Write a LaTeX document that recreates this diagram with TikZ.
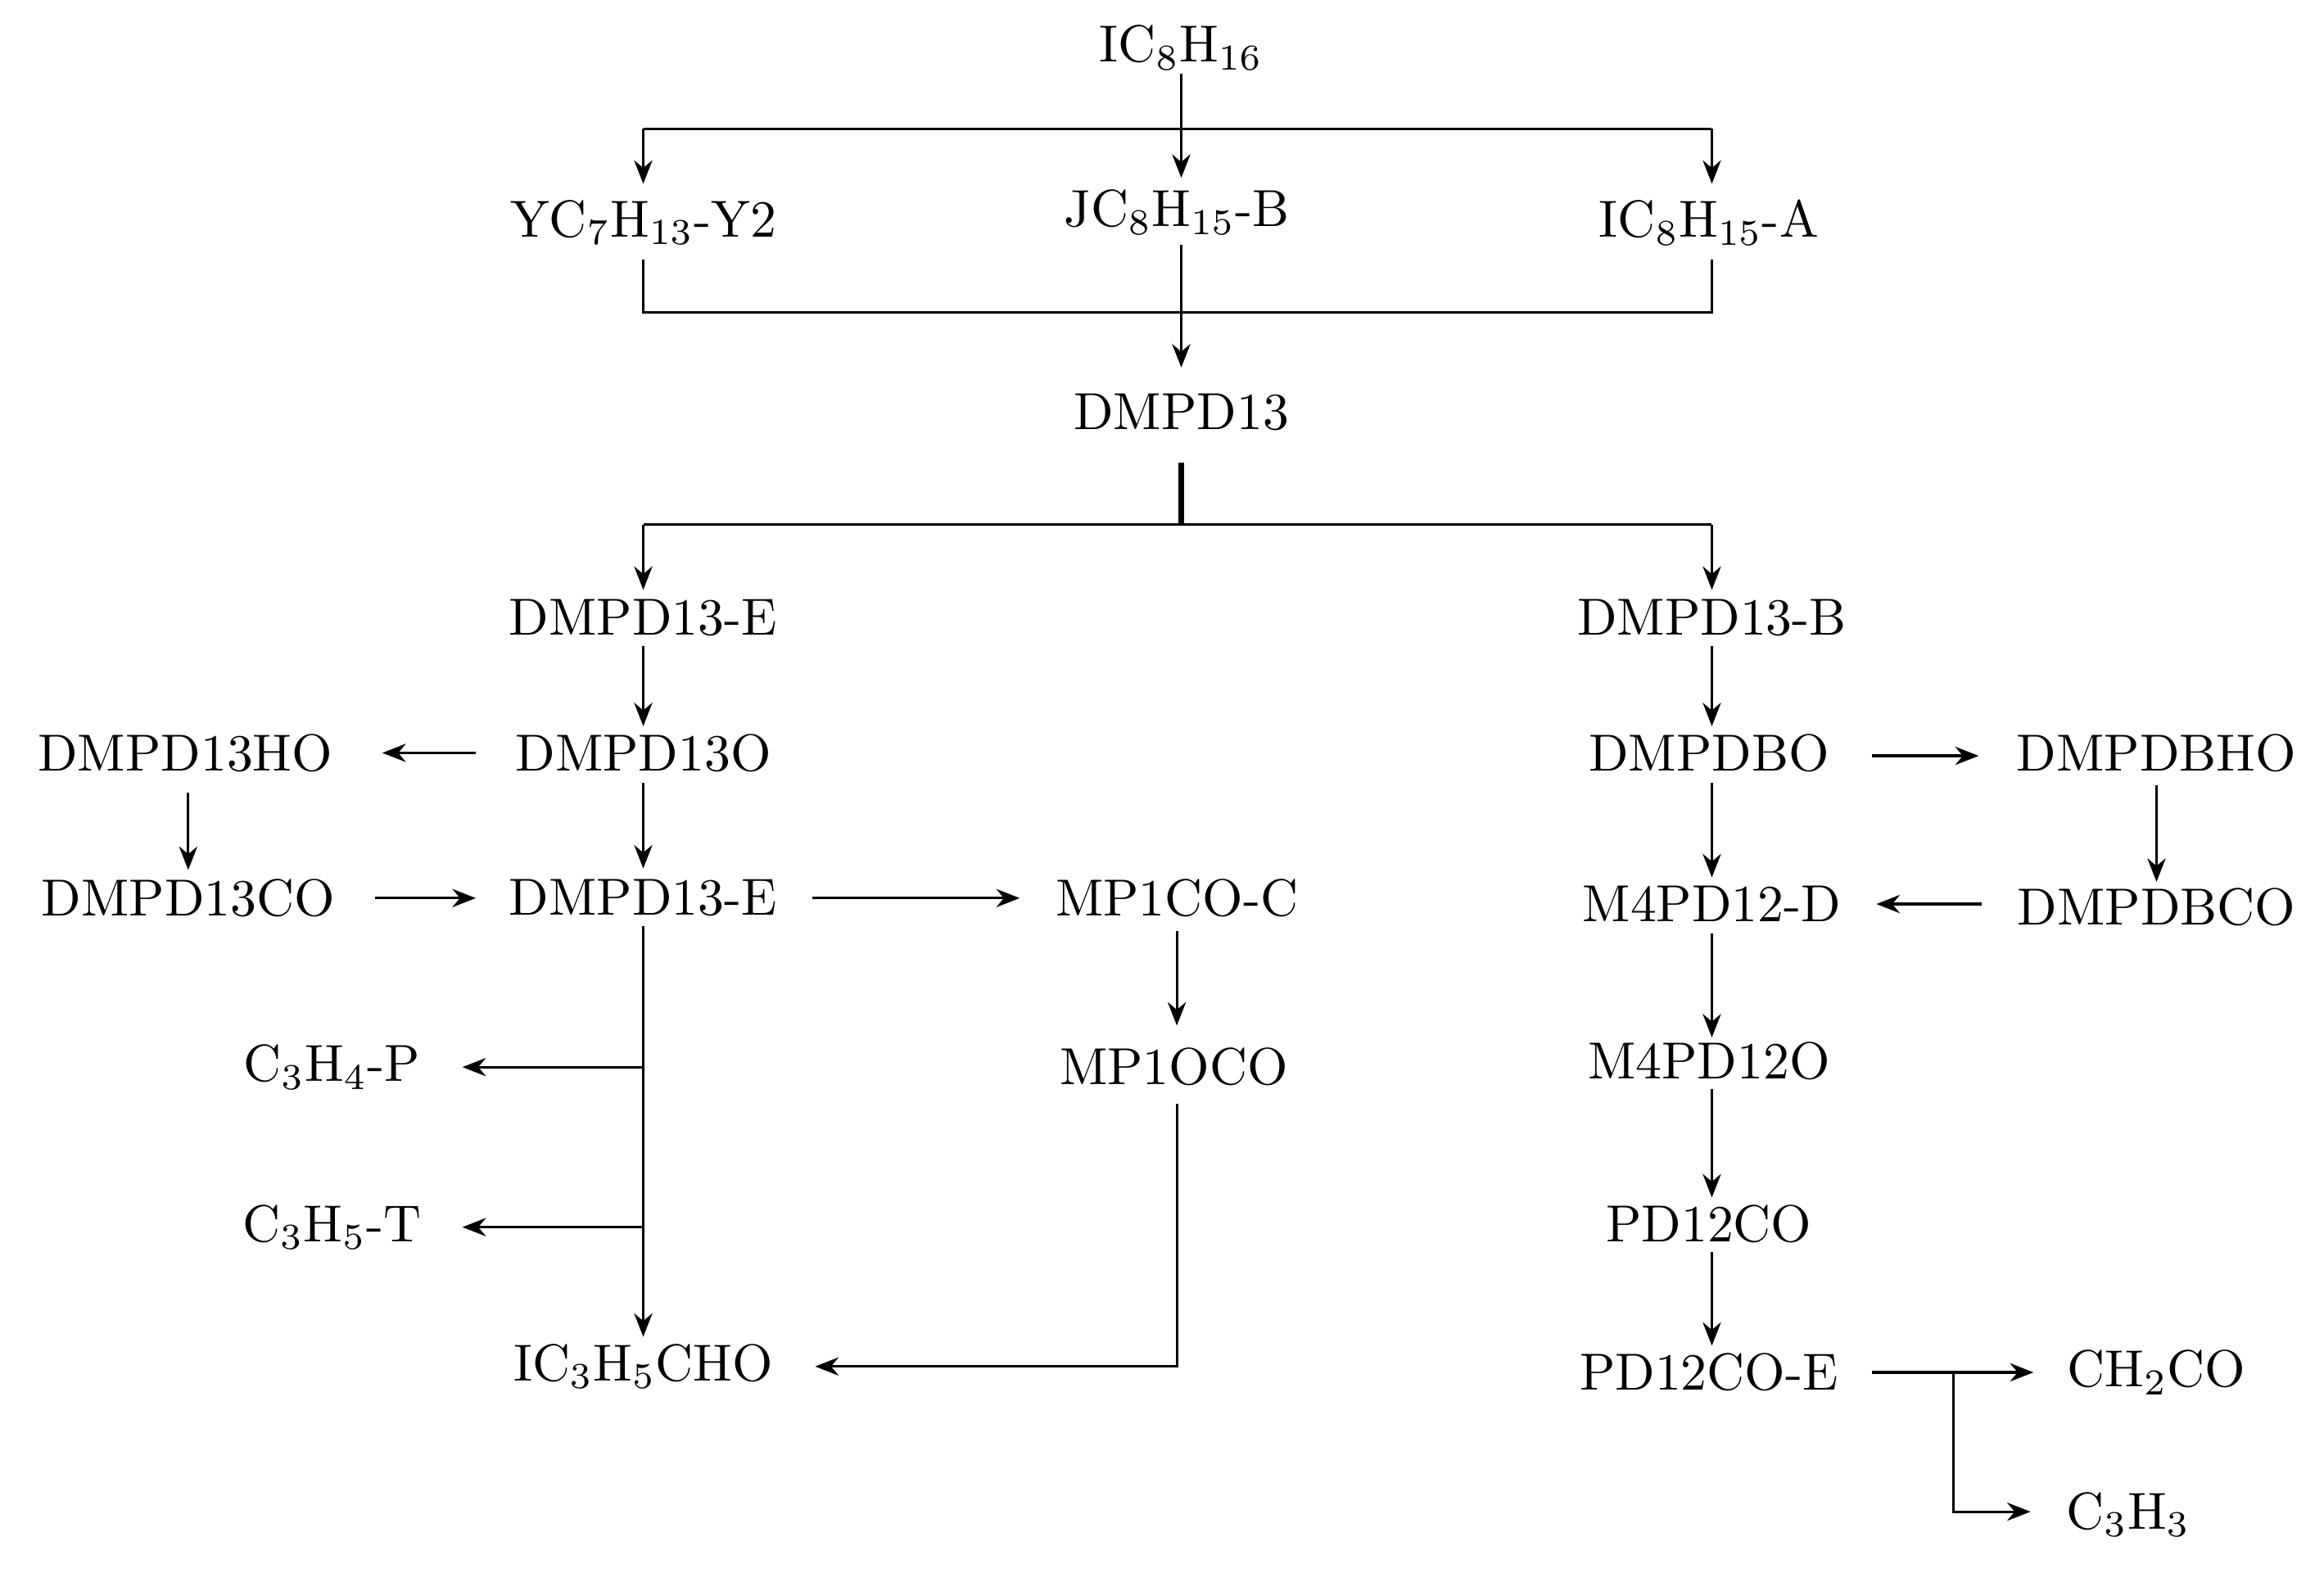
\documentclass[tikz,border=0pt]{standalone}
\usetikzlibrary{arrows.meta}
\begin{document}
\begin{tikzpicture}[x=0.01cm,y=-0.01cm,
  lbl/.style={font=\fontsize{10}{12}\selectfont, inner sep=0pt},
  arr/.style={-{Stealth[length=4.5pt,width=3.5pt]}, line width=0.5pt},
  ln/.style={line width=0.5pt}]
\useasboundingbox (0,0) rectangle (1568,1067);
\node[lbl] (a) at (797,32) {IC$_8$H$_{16}$};
\node[lbl] (y) at (434,150) {YC$_7$H$_{13}$-Y2};
\node[lbl] (j) at (794,143) {JC$_8$H$_{15}$-B};
\node[lbl] (ia) at (1153,150) {IC$_8$H$_{15}$-A};
\node[lbl] (d) at (797,278) {DMPD13};
\node[lbl] (e1) at (434,417) {DMPD13-E};
\node[lbl] (b) at (1155,417) {DMPD13-B};
\node[lbl] (ho) at (125,508) {DMPD13HO};
\node[lbl] (o) at (434,508) {DMPD13O};
\node[lbl] (bo) at (1153,508) {DMPDBO};
\node[lbl] (bho) at (1455,508) {DMPDBHO};
\node[lbl] (co) at (127,606) {DMPD13CO};
\node[lbl] (e2) at (434,606) {DMPD13-E};
\node[lbl] (mc) at (794,606) {MP1CO-C};
\node[lbl] (m4) at (1155,610) {M4PD12-D};
\node[lbl] (bco) at (1455,612) {DMPDBCO};
\node[lbl] (c3p) at (224,720) {C$_3$H$_4$-P};
\node[lbl] (mo) at (792,720) {MP1OCO};
\node[lbl] (m4o) at (1153,716) {M4PD12O};
\node[lbl] (c3t) at (224,828) {C$_3$H$_5$-T};
\node[lbl] (pd) at (1153,826) {PD12CO};
\node[lbl] (ic) at (434,922) {IC$_3$H$_5$CHO};
\node[lbl] (pe) at (1153,926) {PD12CO-E};
\node[lbl] (ch) at (1455,926) {CH$_2$CO};
\node[lbl] (c33) at (1436,1022) {C$_3$H$_3$};
% top
\draw[arr] (797,50) -- (797,120);
\draw[ln] (434,87) -- (1155,87);
\draw[arr] (434,87) -- (434,124);
\draw[arr] (1155,87) -- (1155,124);
\draw[ln] (434,175) -- (434,211) -- (1155,211) -- (1155,175);
\draw[arr] (797,165) -- (797,248);
\draw[line width=1pt] (797,312) -- (797,354);
\draw[ln] (434,354) -- (1155,354);
\draw[arr] (434,354) -- (434,398);
\draw[arr] (1155,354) -- (1155,398);
% left
\draw[arr] (434,436) -- (434,490);
\draw[arr] (321,508) -- (258,508);
\draw[arr] (127,535) -- (127,587);
\draw[arr] (253,606) -- (321,606);
\draw[arr] (434,528) -- (434,586);
\draw[arr] (548,606) -- (688,606);
\draw[arr] (794,628) -- (794,692);
\draw[arr] (434,625) -- (434,902);
\draw[arr] (434,720) -- (312,720);
\draw[arr] (434,828) -- (312,828);
\draw[arr] (794,745) -- (794,922) -- (550,922);
% right
\draw[arr] (1155,436) -- (1155,490);
\draw[arr] (1263,510) -- (1335,510);
\draw[arr] (1455,530) -- (1455,595);
\draw[arr] (1337,610) -- (1266,610);
\draw[arr] (1155,528) -- (1155,592);
\draw[arr] (1155,630) -- (1155,700);
\draw[arr] (1155,735) -- (1155,808);
\draw[arr] (1155,845) -- (1155,908);
\draw[ln] (1263,926) -- (1318,926);
\draw[arr] (1318,926) -- (1372,926);
\draw[arr] (1318,926) -- (1318,1020) -- (1370,1020);
\end{tikzpicture}
\end{document}
